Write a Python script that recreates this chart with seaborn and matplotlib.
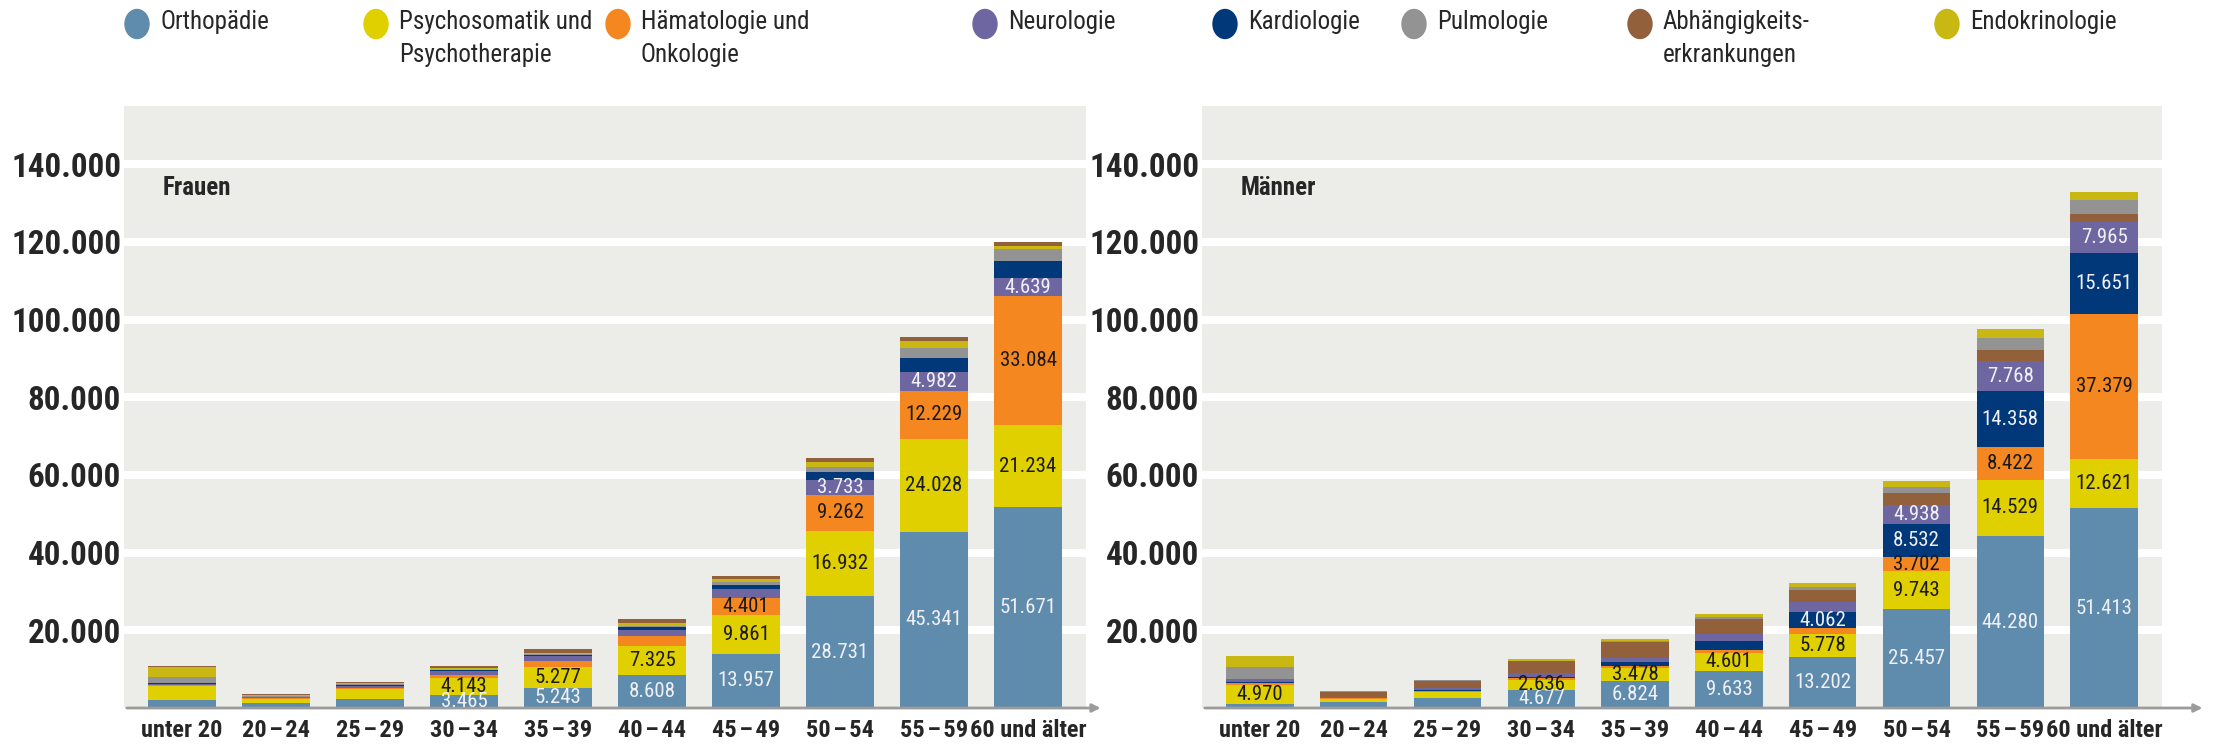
import numpy as np
import pandas as pd
import seaborn as sns
import matplotlib.pyplot as plt
from matplotlib import font_manager as fm
from matplotlib.patches import Ellipse

# age groups (x axis), narrow spaces round the dash
ages = ["unter 20", "20\u200a–\u200a24", "25\u200a–\u200a29", "30\u200a–\u200a34",
        "35\u200a–\u200a39", "40\u200a–\u200a44", "45\u200a–\u200a49",
        "50\u200a–\u200a54", "55\u200a–\u200a59", "60 und älter"]

# specialties, in legend order
categories = ["Orthopädie", "Psychosomatik", "Hämatologie", "Neurologie",
              "Kardiologie", "Pulmologie", "Abhängigkeit", "Endokrinologie"]
legend_labels = ["Orthopädie", "Psychosomatik und\nPsychotherapie",
                 "Hämatologie und\nOnkologie", "Neurologie", "Kardiologie",
                 "Pulmologie", "Abhängigkeits-\nerkrankungen", "Endokrinologie"]
colors = ["#5f8bad", "#e0d000", "#f58720", "#6e66a0",
          "#00387a", "#939393", "#92603a", "#c9b714"]

# Frauen
f_ortho = [2100, 1380, 2320, 3465, 5243, 8608, 13957, 28731, 45341, 51671]
f_psycho = [3440, 950, 2500, 4143, 5277, 7325, 9861, 16932, 24028, 21234]
f_haemato = [260, 170, 430, 770, 1550, 2600, 4401, 9262, 12229, 33084]
f_neuro = [400, 300, 430, 1100, 1290, 1550, 2320, 3733, 4982, 4639]
f_kardio = [350, 150, 300, 260, 260, 860, 1120, 2060, 3600, 4390]
f_pulmo = [1460, 150, 170, 170, 300, 260, 690, 1290, 2600, 3100]
f_sucht = [260, 260, 430, 600, 860, 1030, 770, 1030, 1100, 860]
f_endo = [2580, 150, 170, 340, 300, 690, 770, 1290, 1600, 950]

# Männer
m_ortho = [1000, 1540, 2600, 4677, 6824, 9633, 13202, 25457, 44280, 51413]
m_psycho = [4970, 770, 1620, 2636, 3478, 4601, 5778, 9743, 14529, 12621]
m_haemato = [430, 260, 170, 430, 510, 770, 1550, 3702, 8422, 37379]
m_kardio = [250, 100, 340, 250, 940, 2310, 4062, 8532, 14358, 15651]
m_neuro = [770, 170, 340, 900, 1200, 1800, 2580, 4938, 7768, 7965]
m_sucht = [170, 1280, 1800, 3160, 3930, 3850, 3100, 2920, 2840, 2150]
m_pulmo = [2900, 260, 260, 170, 340, 430, 770, 1550, 3100, 3610]
m_endo = [2820, 100, 100, 340, 430, 850, 1030, 1550, 2320, 2060]

# stacking order differs per panel (bottom -> top)
women = {"Orthopädie": f_ortho, "Psychosomatik": f_psycho, "Hämatologie": f_haemato,
         "Neurologie": f_neuro, "Kardiologie": f_kardio, "Pulmologie": f_pulmo,
         "Endokrinologie": f_endo, "Abhängigkeit": f_sucht}
men = {"Orthopädie": m_ortho, "Psychosomatik": m_psycho, "Hämatologie": m_haemato,
       "Kardiologie": m_kardio, "Neurologie": m_neuro, "Abhängigkeit": m_sucht,
       "Pulmologie": m_pulmo, "Endokrinologie": m_endo}

labeled_w = ["Orthopädie", "Psychosomatik", "Hämatologie", "Neurologie"]
labeled_m = ["Orthopädie", "Psychosomatik", "Hämatologie", "Kardiologie", "Neurologie"]
light_text = ["Orthopädie", "Neurologie", "Kardiologie"]

palette = dict(zip(categories, colors))

sns.set_style("white")

# prefer a narrow face if one is around, the original uses a condensed DIN
names = {f.name for f in fm.fontManager.ttflist}
family = "DejaVu Sans"
for cand in ["Liberation Sans Narrow", "DejaVu Sans Condensed", "Roboto Condensed",
             "Open Sans Condensed", "Noto Sans Condensed"]:
    if cand in names:
        family = cand
        break
plt.rcParams["font.family"] = [family, "DejaVu Sans"]

W, H = 2217, 751
fig = plt.figure(figsize=(W / 100, H / 100), dpi=100)
renderer = fig.canvas.get_renderer()


def fit(s, target_px, weight="normal", max_size=40):
    """font size that makes s about target_px wide"""
    t = fig.text(0, 0, s, fontsize=20, fontweight=weight)
    w = t.get_window_extent(renderer).width
    t.remove()
    return min(max_size, 20 * target_px / w)


fs_ytick = fit("140.000", 110, "bold", 25)
fs_xtick = fit("60 und älter", 117, "bold", 19)
fs_title = fit("Frauen", 88, "bold", 18)
fs_value = fit("28.731", 57, "normal", 19)
fs_legend = fit("Orthopädie", 129, "normal", 18)


def de(v):
    return f"{v:,}".replace(",", ".")


def panel(rect, data, title, labeled, min_label, arrow_end):
    ax = fig.add_axes(rect)
    stack = list(data.keys())
    df = pd.DataFrame({
        "Alter": np.tile(ages, len(stack)),
        "Fach": np.repeat(stack, len(ages)),
        "Anzahl": np.concatenate([data[k] for k in stack]),
    })
    sns.histplot(data=df, x="Alter", hue="Fach", weights="Anzahl",
                 multiple="stack", hue_order=stack[::-1], palette=palette,
                 discrete=True, shrink=0.72, alpha=1, linewidth=0,
                 legend=False, ax=ax)
    ax.set_facecolor("#ecece9")
    ax.set_axisbelow(True)
    ax.set_ylim(0, 155000)
    ax.set_xlim(-0.617, len(ages) - 1 + 0.617)
    yt = list(range(20000, 140001, 20000))
    ax.set_yticks(yt)
    ax.set_yticklabels([de(v) for v in yt], fontsize=fs_ytick, fontweight="bold")
    ax.set_xticks(range(len(ages)))
    ax.set_xticklabels(ages, fontsize=fs_xtick, fontweight="bold")
    ax.tick_params(length=0, axis="y", pad=2)
    ax.tick_params(length=0, axis="x", pad=8)
    ax.grid(axis="y", color="white", lw=5.8)
    ax.grid(axis="x", visible=False)
    ax.set_xlabel("")
    ax.set_ylabel("")
    for s in ax.spines.values():
        s.set_visible(False)
    ax.annotate("", xy=(arrow_end, 0), xytext=(0, 0), xycoords="axes fraction",
                arrowprops=dict(arrowstyle="-|>", color="#9b9b9b", lw=2,
                                mutation_scale=12), annotation_clip=False)
    ax.text(0.04, 134000, title, transform=ax.get_yaxis_transform(),
            fontsize=fs_title, fontweight="bold", va="center")

    # value labels on the larger segments
    bottom = np.zeros(len(ages))
    for k in stack:
        vals = np.array(data[k])
        for i, v in enumerate(vals):
            if k in labeled and v >= min_label:
                c = "#f0f0f4" if k in light_text else "#1a1a1a"
                ax.text(i, bottom[i] + v / 2, de(v), ha="center", va="center",
                        fontsize=fs_value, color=c)
        bottom += vals
    return ax


panel([124 / W, 43 / H, 962 / W, 602 / H], women, "Frauen", labeled_w, 3450, 1.018)
panel([1202 / W, 43 / H, 960 / W, 602 / H], men, "Männer", labeled_m, 2630, 1.045)

# legend across the top
leg_x = [137, 376, 618, 985, 1225, 1414, 1640, 1947]
for cx, lab, col in zip(leg_x, legend_labels, colors):
    fig.add_artist(Ellipse((cx / W, 1 - 24 / H), 24 / W, 29 / H,
                           transform=fig.transFigure, color=col))
    fig.text((cx + 23) / W, 1 - 10 / H, lab, fontsize=fs_legend, va="top",
             ha="left", linespacing=1.45)

fig.savefig("out.png", dpi=100)
